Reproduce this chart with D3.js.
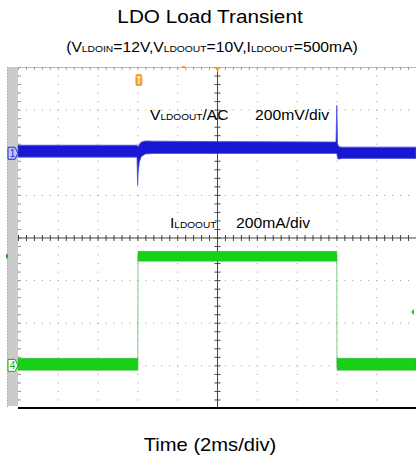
<!DOCTYPE html>
<html>
<head>
<meta charset="utf-8">
<script src="https://cdn.jsdelivr.net/npm/d3@7"></script>
<style>
  body { margin: 0; background: #fff; }
  text { font-family: "Liberation Sans", Arial, sans-serif; fill: #000; }
</style>
</head>
<body>
<div id="chart"></div>
<script>
// scope settings
const timeDivs = 10;      // 2 ms/div
const msPerDiv = 2;
const vertDivs = 8;
const ch1MvPerDiv = 200;  // V_LDOOUT / AC
const ch4MaPerDiv = 200;  // I_LDOOUT
const ch1OffsetDiv = 2;
const ch4OffsetDiv = -3;

// CH1 output voltage envelope (mV around its marker)
const ch1Ms   = [0, 5.98, 6.01, 6.04, 6.1, 6.2, 6.4, 6.8, 10, 15.98, 16.02, 16.06, 16.12, 16.3, 20];
const ch1HiMv = [33, 33, 30, 25, 38, 48, 53, 52, 50, 48, 220, 40, 26, 24, 24];
const ch1LoMv = [-23, -23, -155, -95, -45, -20, -8, -6, -6, -6, -6, -30, -32, -29, -29];

// CH4 load current envelope (mA above its marker)
const ch4Ms   = [0, 6.02, 6.03, 16.02, 16.03, 20];
const ch4HiMa = [33, 33, 535, 535, 33, 33];
const ch4LoMa = [-23, -23, 489, 489, -23, -23];
const ch4MidMa = [5, 5, 512, 512, 5, 5];

const width = 416, height = 461;
const plot = { left: 18, right: 416, top: 67, bottom: 408 };
const stretch = 1.12;

const svg = d3.select('#chart')
    .append('svg')
    .attr('width', width)
    .attr('height', height);

const x = d3.scaleLinear()
    .domain([0, timeDivs * msPerDiv])
    .range([plot.left, plot.right]);

const y = d3.scaleLinear()
    .domain([-vertDivs / 2, vertDivs / 2])
    .range([plot.bottom, plot.top]);

const xDiv = d => x(d * msPerDiv);
const minorX = (plot.right - plot.left) / timeDivs / 5;
const minorY = (plot.bottom - plot.top) / vertDivs / 5;

// left gray channel strip
svg.append('rect')
    .attr('x', 7).attr('y', plot.top)
    .attr('width', plot.left - 7).attr('height', plot.bottom - plot.top - 2)
    .attr('fill', '#cbcbcb');

svg.append('line')
    .attr('x1', 7.5).attr('x2', 7.5)
    .attr('y1', plot.top).attr('y2', plot.bottom)
    .attr('stroke', '#7c7')
    .attr('stroke-dasharray', '1,2');

// dotted grid
const gridG = svg.append('g');
gridG.selectAll('.vgrid')
    .data(d3.range(0, timeDivs))
    .join('line')
    .attr('x1', d => xDiv(d) + 0.5).attr('x2', d => xDiv(d) + 0.5)
    .attr('y1', plot.top).attr('y2', plot.bottom)
    .attr('stroke', '#9a9a9a')
    .attr('stroke-dasharray', `1,${minorY - 1}`);

gridG.selectAll('.hgrid')
    .data(d3.range(-vertDivs / 2 + 1, vertDivs / 2))
    .join('line')
    .attr('x1', plot.left).attr('x2', plot.right)
    .attr('y1', d => y(d) + 0.5).attr('y2', d => y(d) + 0.5)
    .attr('stroke', '#9a9a9a')
    .attr('stroke-dasharray', `1,${minorX - 1}`);

// top edge
svg.append('line')
    .attr('x1', plot.left).attr('x2', plot.right)
    .attr('y1', plot.top + 0.5).attr('y2', plot.top + 0.5)
    .attr('stroke', '#bbb');

const minorTimes = d3.range(0, timeDivs * 5 + 1).map(i => i * msPerDiv / 5);
const minorDivs = d3.range(-vertDivs * 5 / 2, vertDivs * 5 / 2 + 1).map(i => i / 5);

svg.selectAll('.topTick')
    .data(minorTimes)
    .join('line')
    .attr('x1', d => x(d) + 0.5).attr('x2', d => x(d) + 0.5)
    .attr('y1', plot.top).attr('y2', plot.top + 3)
    .attr('stroke', '#999');

svg.selectAll('.leftTick')
    .data(minorDivs)
    .join('line')
    .attr('x1', plot.left).attr('x2', plot.left + 3)
    .attr('y1', d => y(d) + 0.5).attr('y2', d => y(d) + 0.5)
    .attr('stroke', '#999');

// center cross axes with minor ticks on both sides
const cx = x(timeDivs * msPerDiv / 2) + 0.5;
const cy = y(0) + 0.5;
svg.append('line')
    .attr('x1', cx).attr('x2', cx).attr('y1', plot.top).attr('y2', plot.bottom)
    .attr('stroke', '#444');
svg.append('line')
    .attr('x1', plot.left).attr('x2', plot.right).attr('y1', cy).attr('y2', cy)
    .attr('stroke', '#444');

svg.selectAll('.cxTick')
    .data(minorDivs)
    .join('line')
    .attr('x1', cx - 3).attr('x2', cx + 3)
    .attr('y1', d => y(d) + 0.5).attr('y2', d => y(d) + 0.5)
    .attr('stroke', '#444');

svg.selectAll('.cyTick')
    .data(minorTimes)
    .join('line')
    .attr('x1', d => x(d) + 0.5).attr('x2', d => x(d) + 0.5)
    .attr('y1', cy - 3).attr('y2', cy + 3)
    .attr('stroke', '#444');

// bottom edge
svg.append('line')
    .attr('x1', plot.left).attr('x2', plot.right)
    .attr('y1', plot.bottom).attr('y2', plot.bottom)
    .attr('stroke', '#000')
    .attr('stroke-width', 2);

// CH4 current trace
const ch4Y = v => y(ch4OffsetDiv + v / ch4MaPerDiv);
const ch4Data = ch4Ms.map((t, i) => ({ t, hi: ch4HiMa[i], lo: ch4LoMa[i], mid: ch4MidMa[i] }));

svg.append('path')
    .datum(ch4Data)
    .attr('fill', 'none')
    .attr('stroke', '#7fcf7f')
    .attr('stroke-width', 1)
    .attr('d', d3.line().x(d => x(d.t)).y(d => ch4Y(d.mid)));

const ch4Area = d3.area().x(d => x(d.t)).y0(d => ch4Y(d.lo)).y1(d => ch4Y(d.hi));
svg.append('path')
    .datum(ch4Data.filter(d => d.t < 6.025))
    .attr('fill', '#17d117')
    .attr('stroke', '#3a9f3a').attr('stroke-width', 0.8).attr('stroke-opacity', 0.6)
    .attr('d', ch4Area);
svg.append('path')
    .datum(ch4Data.filter(d => d.t > 6.025 && d.t < 16.025))
    .attr('fill', '#17d117')
    .attr('stroke', '#3a9f3a').attr('stroke-width', 0.8).attr('stroke-opacity', 0.6)
    .attr('d', ch4Area);
svg.append('path')
    .datum(ch4Data.filter(d => d.t > 16.025))
    .attr('fill', '#17d117')
    .attr('stroke', '#3a9f3a').attr('stroke-width', 0.8).attr('stroke-opacity', 0.6)
    .attr('d', ch4Area);

// CH1 voltage trace
const ch1Y = v => y(ch1OffsetDiv + v / ch1MvPerDiv);
const ch1Data = ch1Ms.map((t, i) => ({ t, hi: ch1HiMv[i], lo: ch1LoMv[i] }));

svg.append('path')
    .datum(ch1Data)
    .attr('fill', '#1717d4')
    .attr('stroke', '#5050e0')
    .attr('stroke-width', 0.8)
    .attr('d', d3.area().x(d => x(d.t)).y0(d => ch1Y(d.lo)).y1(d => ch1Y(d.hi)));

// channel markers
const m1 = svg.append('g').attr('transform', `translate(8,${y(ch1OffsetDiv) + 1})`);
m1.append('path')
    .attr('d', 'M0,-6 H7 L10,0 L7,6 H0 Z')
    .attr('fill', '#b8c8f4').attr('stroke', '#2a2ad8');
m1.append('text')
    .attr('x', 4.5).attr('y', 4)
    .attr('text-anchor', 'middle')
    .attr('font-size', 10)
    .style('fill', '#2a2ad8')
    .text('1');

const m4 = svg.append('g').attr('transform', `translate(8,${y(ch4OffsetDiv)})`);
m4.append('path')
    .attr('d', 'M0,-6 H7 L10,0 L7,6 H0 Z')
    .attr('fill', '#fff').attr('stroke', '#1aa81a');
m4.append('text')
    .attr('x', 4.5).attr('y', 4)
    .attr('text-anchor', 'middle')
    .attr('font-size', 10)
    .style('fill', '#1aa81a')
    .text('4');

// ch4 trigger-level mark and right arrow
svg.append('rect')
    .attr('x', 6).attr('y', ch4Y(512) - 2)
    .attr('width', 2).attr('height', 4)
    .attr('fill', '#1aa81a');
svg.append('path')
    .attr('transform', `translate(${plot.right - 5},${y(-1.75)})`)
    .attr('d', 'M0,0 L3,-3 L3,3 Z')
    .attr('fill', '#2cc02c');

// trigger markers (orange)
svg.append('path')
    .attr('transform', `translate(${xDiv(5) + 0.5},${plot.top})`)
    .attr('d', 'M-3,0 H3 L0,5 Z')
    .attr('fill', '#f39c1e');
svg.append('rect')
    .attr('x', xDiv(4.12)).attr('y', plot.top - 1)
    .attr('width', 3).attr('height', 2)
    .attr('fill', '#f39c1e');
const trig = svg.append('g').attr('transform', `translate(${x(6) + 1.5},${plot.top + 7})`);
trig.append('rect')
    .attr('x', -3.5).attr('y', 0).attr('width', 7).attr('height', 12).attr('rx', 2)
    .attr('fill', '#f5a030');
trig.append('path')
    .attr('d', 'M-2,3 H2 M0,3 V10')
    .attr('stroke', '#fff').attr('stroke-width', 1.2);

// text helper: parts are [string, isSub]
function label(px, py, parts, size, subSize, anchor) {
    const t = svg.append('text')
        .attr('transform', `translate(${px},${py}) scale(${stretch},1)`)
        .attr('text-anchor', anchor || 'start')
        .attr('font-size', size);
    parts.forEach(([s, sub]) => {
        t.append('tspan').attr('font-size', sub ? subSize : size).text(s);
    });
    return t;
}

label(210, 23, [['LDO Load Transient']], 18.5, 0, 'middle');
label(212, 52, [['(V'], ['LDOIN', 1], ['=12V,V'], ['LDOOUT', 1], ['=10V,I'], ['LDOOUT', 1], ['=500mA)']], 14, 9.2, 'middle');
label(210, 451, [['Time (2ms/div)']], 18, 0, 'middle');

label(150, 120, [['V'], ['LDOOUT', 1], ['/AC']], 14, 9);
label(255, 120, [['200mV/div']], 14, 9);
label(170, 228, [['I'], ['LDOOUT', 1]], 14, 9);
label(236, 228, [['200mA/div']], 14, 9);
</script>
</body>
</html>
